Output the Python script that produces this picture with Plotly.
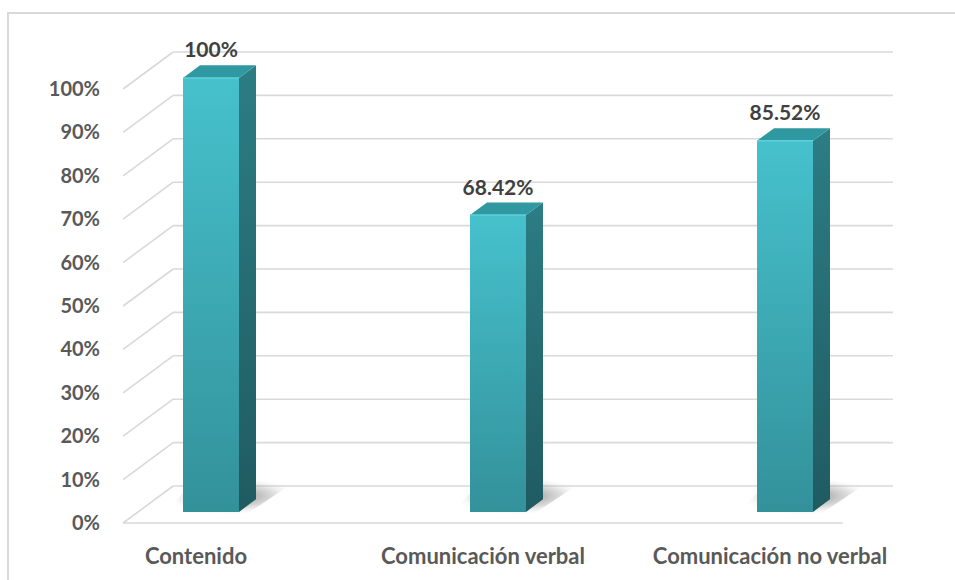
import plotly.graph_objects as go

# ---------------- data ----------------
categories = ["Contenido", "Comunicación verbal", "Comunicación no verbal"]
values = [100, 68.42, 85.52]
value_labels = ["100%", "68.42%", "85.52%"]
y_ticks = [0, 10, 20, 30, 40, 50, 60, 70, 80, 90, 100]
y_tick_labels = [f"{v}%" for v in y_ticks]

# ---------------- style / geometry constants ----------------
PX_X = 287.0            # pixels per category unit
PX_Y = 4.34             # pixels per percent
DEPTH_X = 50 / PX_X     # oblique depth (x units)
DEPTH_Y = 37 / PX_Y     # oblique depth (percent units)
T_FRONT, T_BACK = 0.30, 0.64
HALF_W = 28 / PX_X
FLOOR_L, FLOOR_R = -0.254, 2.254
GRID_COLOR = "#d9d9d9"
FONT = "Lato"

W, H = 955, 580
M_L, M_B = 105, 48
X0_PX = 196  # pixel of category 0 centre (front plane)
Y0_PX = 523  # pixel of 0% (front plane)

x_range = [(M_L - X0_PX) / PX_X, (W - X0_PX) / PX_X]
y_range = [(Y0_PX - (H - M_B)) / PX_Y, Y0_PX / PX_Y]


def shift(x, y, t):
    return x + DEPTH_X * t, y + DEPTH_Y * t


fig = go.Figure()


def poly(xs, ys, colorscale=None, color=None, orient="vertical"):
    kw = {}
    if colorscale is not None:
        kw["fillgradient"] = dict(type=orient, colorscale=colorscale)
    else:
        kw["fillcolor"] = color
    fig.add_trace(go.Scatter(
        x=list(xs) + [xs[0]], y=list(ys) + [ys[0]], mode="lines", fill="toself",
        line=dict(width=0, color="rgba(0,0,0,0)"), hoverinfo="skip",
        showlegend=False, **kw))


def line(xs, ys, width=1.6):
    fig.add_trace(go.Scatter(x=xs, y=ys, mode="lines",
                             line=dict(color=GRID_COLOR, width=width),
                             hoverinfo="skip", showlegend=False))


# ---------------- walls: gridlines ----------------
for v in y_ticks:
    bx0, by = shift(FLOOR_L, v, 1.0)
    bx1, _ = shift(FLOOR_R, v, 1.0)
    line([bx0, bx1], [by, by])                 # back wall line
    line([FLOOR_L, bx0], [v, by])              # side wall diagonal
line([FLOOR_L, FLOOR_R], [0, 0])               # floor front edge

# ---------------- bars ----------------
for i, v in enumerate(values):
    xl, xr = i - HALF_W, i + HALF_W
    # shadow on the floor
    sx = [xl - 0.07, xr + 0.02, xr + 0.22, xl + 0.05]
    sy = [-0.8, -0.8, DEPTH_Y * 0.95, DEPTH_Y * 0.95]
    sxx, syy = [], []
    for a, b in zip(sx, sy):
        a2, b2 = shift(a, b, T_FRONT)
        sxx.append(a2)
        syy.append(b2)
    poly(sxx, syy, colorscale=[[0, "rgba(60,60,60,0.7)"], [0.6, "rgba(140,140,140,0.3)"],
                               [1, "rgba(255,255,255,0)"]], orient="radial")

    fl_b = shift(xl, 0, T_FRONT)
    fr_b = shift(xr, 0, T_FRONT)
    fl_t = shift(xl, v, T_FRONT)
    fr_t = shift(xr, v, T_FRONT)
    br_b = shift(xr, 0, T_BACK)
    br_t = shift(xr, v, T_BACK)
    bl_t = shift(xl, v, T_BACK)

    # side face
    poly([fr_b[0], br_b[0], br_t[0], fr_t[0]], [fr_b[1], br_b[1], br_t[1], fr_t[1]],
         colorscale=[[0, "#1f5b61"], [1, "#2c7d84"]])
    # front face
    poly([fl_b[0], fr_b[0], fr_t[0], fl_t[0]], [fl_b[1], fr_b[1], fr_t[1], fl_t[1]],
         colorscale=[[0, "#33919a"], [1, "#46c1cc"]])
    # top face
    poly([fl_t[0], fr_t[0], br_t[0], bl_t[0]], [fl_t[1], fr_t[1], br_t[1], bl_t[1]],
         color="#3098a1")
    # thin highlight on front top edge
    fig.add_trace(go.Scatter(x=[fl_t[0], fr_t[0]], y=[fl_t[1], fr_t[1]], mode="lines",
                             line=dict(color="#5fd0da", width=1.5),
                             hoverinfo="skip", showlegend=False))

# ---------------- value labels ----------------
lx = [shift(i, v, T_FRONT)[0] for i, v in enumerate(values)]
ly = [shift(i, v, T_BACK)[1] + 0.6 for i, v in enumerate(values)]
fig.add_trace(go.Scatter(x=lx, y=ly, mode="text", text=value_labels,
                         textposition="top center", cliponaxis=False,
                         textfont=dict(family=FONT, size=21, color="#404040", weight="bold"),
                         hoverinfo="skip", showlegend=False))

# ---------------- layout ----------------
fig.update_layout(
    width=W, height=H,
    margin=dict(l=M_L, r=0, t=0, b=M_B),
    plot_bgcolor="white", paper_bgcolor="white",
    showlegend=False,
    xaxis=dict(range=x_range, tickvals=list(range(len(categories))), ticktext=categories,
               showgrid=False, zeroline=False, showline=False, ticks="",
               ticklabelstandoff=9,
               tickfont=dict(family=FONT, size=22, color="#595959", weight="bold"),
               fixedrange=True),
    yaxis=dict(range=y_range, tickvals=y_ticks, ticktext=y_tick_labels,
               showgrid=False, zeroline=False, showline=False, ticks="",
               ticklabelstandoff=4,
               tickfont=dict(family=FONT, size=20, color="#595959", weight="bold"),
               fixedrange=True),
    shapes=[dict(type="rect", xref="paper", yref="paper",
                 x0=(8 - M_L) / (W - M_L), x1=(962 - M_L) / (W - M_L),
                 y0=((H - M_B) - 590) / (H - M_B), y1=((H - M_B) - 13) / (H - M_B),
                 line=dict(color="#d9d9d9", width=2), fillcolor="rgba(0,0,0,0)",
                 layer="below")],
)

fig.write_html("out.html")
